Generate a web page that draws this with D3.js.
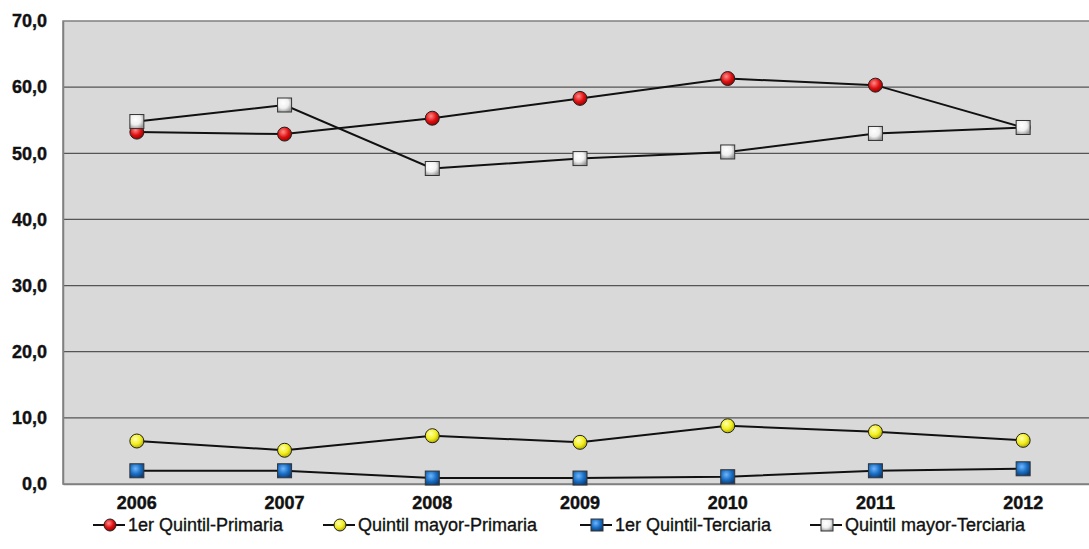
<!DOCTYPE html>
<html>
<head>
<meta charset="utf-8">
<script src="https://cdn.jsdelivr.net/npm/d3@7"></script>
<style>
  body { margin: 0; background: #fff; }
  text { font-family: "Liberation Sans", Arial, sans-serif; }
</style>
</head>
<body>
<svg id="chart" width="1089" height="549"></svg>
<script>
const years = ['2006', '2007', '2008', '2009', '2010', '2011', '2012'];
const yTicks = [0, 10, 20, 30, 40, 50, 60, 70];
const primeroPrimaria = [53.2, 52.9, 55.3, 58.3, 61.3, 60.3, 53.9];
const mayorPrimaria = [6.5, 5.1, 7.3, 6.3, 8.8, 7.9, 6.6];
const primeroTerciaria = [2.0, 2.0, 0.9, 0.9, 1.1, 2.0, 2.3];
const mayorTerciaria = [54.8, 57.3, 47.7, 49.2, 50.2, 53.0, 53.9];

const seriesNames = ['1er Quintil-Primaria', 'Quintil mayor-Primaria', '1er Quintil-Terciaria', 'Quintil mayor-Terciaria'];

const series = [
  { name: seriesNames[0], values: primeroPrimaria, shape: 'circle', grad: 'gRed' },
  { name: seriesNames[1], values: mayorPrimaria, shape: 'circle', grad: 'gYellow' },
  { name: seriesNames[2], values: primeroTerciaria, shape: 'square', grad: 'gBlue' },
  { name: seriesNames[3], values: mayorTerciaria, shape: 'square', grad: 'gWhite' }
];

const margin = { top: 21, right: -8, bottom: 65, left: 63 };
const width = 1089, height = 549;
const svg = d3.select('#chart');

// gradients for the shaded markers
const defs = svg.append('defs');
const grads = [
  { id: 'gRed', stops: ['#ff8a8a', '#e01010', '#8a0000'] },
  { id: 'gYellow', stops: ['#ffffb0', '#f2ef1c', '#a8a000'] },
  { id: 'gBlue', stops: ['#6fb6ff', '#1a6fc4', '#0b3d78'] },
  { id: 'gWhite', stops: ['#ffffff', '#f0f0f0', '#9a9a9a'] }
];
grads.forEach(g => {
  const rg = defs.append('radialGradient').attr('id', g.id)
    .attr('cx', '40%').attr('cy', '35%').attr('r', '70%');
  rg.append('stop').attr('offset', '0%').attr('stop-color', g.stops[0]);
  rg.append('stop').attr('offset', '55%').attr('stop-color', g.stops[1]);
  rg.append('stop').attr('offset', '100%').attr('stop-color', g.stops[2]);
});

const x = d3.scaleBand().domain(years).range([margin.left, width - margin.right]);
const y = d3.scaleLinear().domain([0, 70]).range([height - margin.bottom, margin.top]);

// plot background
svg.append('rect')
  .attr('x', margin.left).attr('y', y(70))
  .attr('width', width - margin.right - margin.left)
  .attr('height', y(0) - y(70))
  .attr('fill', '#d9d9d9')
  .attr('stroke', '#808080').attr('stroke-width', 1.5);

// gridlines
svg.append('g').selectAll('line')
  .data(yTicks.filter(d => d > 0 && d < 70))
  .join('line')
  .attr('x1', margin.left).attr('x2', width)
  .attr('y1', d => y(d)).attr('y2', d => y(d))
  .attr('stroke', '#555').attr('stroke-width', 1.3);

// y axis
const yAxis = svg.append('g')
  .attr('transform', `translate(${margin.left},0)`)
  .call(d3.axisLeft(y).tickValues(yTicks).tickSize(0).tickPadding(16)
    .tickFormat(d => d3.format('.1f')(d).replace('.', ',')));
yAxis.select('.domain').attr('stroke', '#808080').attr('stroke-width', 1.5);
yAxis.selectAll('text').attr('font-size', 18).attr('font-weight', 'bold')
  .attr('fill', '#111').attr('stroke', '#111').attr('stroke-width', 0.4);

// x axis
const xAxis = svg.append('g')
  .attr('transform', `translate(0,${y(0)})`)
  .call(d3.axisBottom(x).tickSize(0).tickPadding(12));
xAxis.select('.domain').attr('stroke', '#808080').attr('stroke-width', 1.5);
xAxis.selectAll('text').attr('font-size', 18).attr('font-weight', 'bold')
  .attr('fill', '#111').attr('stroke', '#111').attr('stroke-width', 0.4);

const cx = d => x(d) + x.bandwidth() / 2;
const line = d3.line().x(d => cx(d[0])).y(d => y(d[1]));

function drawMarker(g, shape, grad, size) {
  if (shape === 'circle') {
    g.append('circle').attr('r', size / 2)
      .attr('fill', `url(#${grad})`).attr('stroke', '#222').attr('stroke-width', 1);
  } else {
    g.append('rect').attr('x', -size / 2).attr('y', -size / 2)
      .attr('width', size).attr('height', size)
      .attr('fill', `url(#${grad})`).attr('stroke', '#333').attr('stroke-width', 1);
  }
}

series.forEach(s => {
  const pts = years.map((yr, i) => [yr, s.values[i]]);
  svg.append('path').datum(pts)
    .attr('d', line).attr('fill', 'none')
    .attr('stroke', '#111').attr('stroke-width', 2);
  pts.forEach(p => {
    const g = svg.append('g').attr('transform', `translate(${cx(p[0])},${y(p[1])})`);
    drawMarker(g, s.shape, s.grad, 14);
  });
});

// legend
const legendX = [93, 323, 580, 810];
const legend = svg.append('g').attr('transform', 'translate(0,525)');
series.forEach((s, i) => {
  const g = legend.append('g').attr('transform', `translate(${legendX[i]},0)`);
  g.append('line').attr('x1', 0).attr('x2', 32).attr('stroke', '#111').attr('stroke-width', 2);
  const m = g.append('g').attr('transform', 'translate(17,0)');
  drawMarker(m, s.shape, s.grad, 12);
  g.append('text').attr('x', 35).attr('dy', '0.36em')
    .attr('font-size', 18).attr('fill', '#111')
    .attr('stroke', '#111').attr('stroke-width', 0.35)
    .text(s.name);
});
</script>
</body>
</html>
